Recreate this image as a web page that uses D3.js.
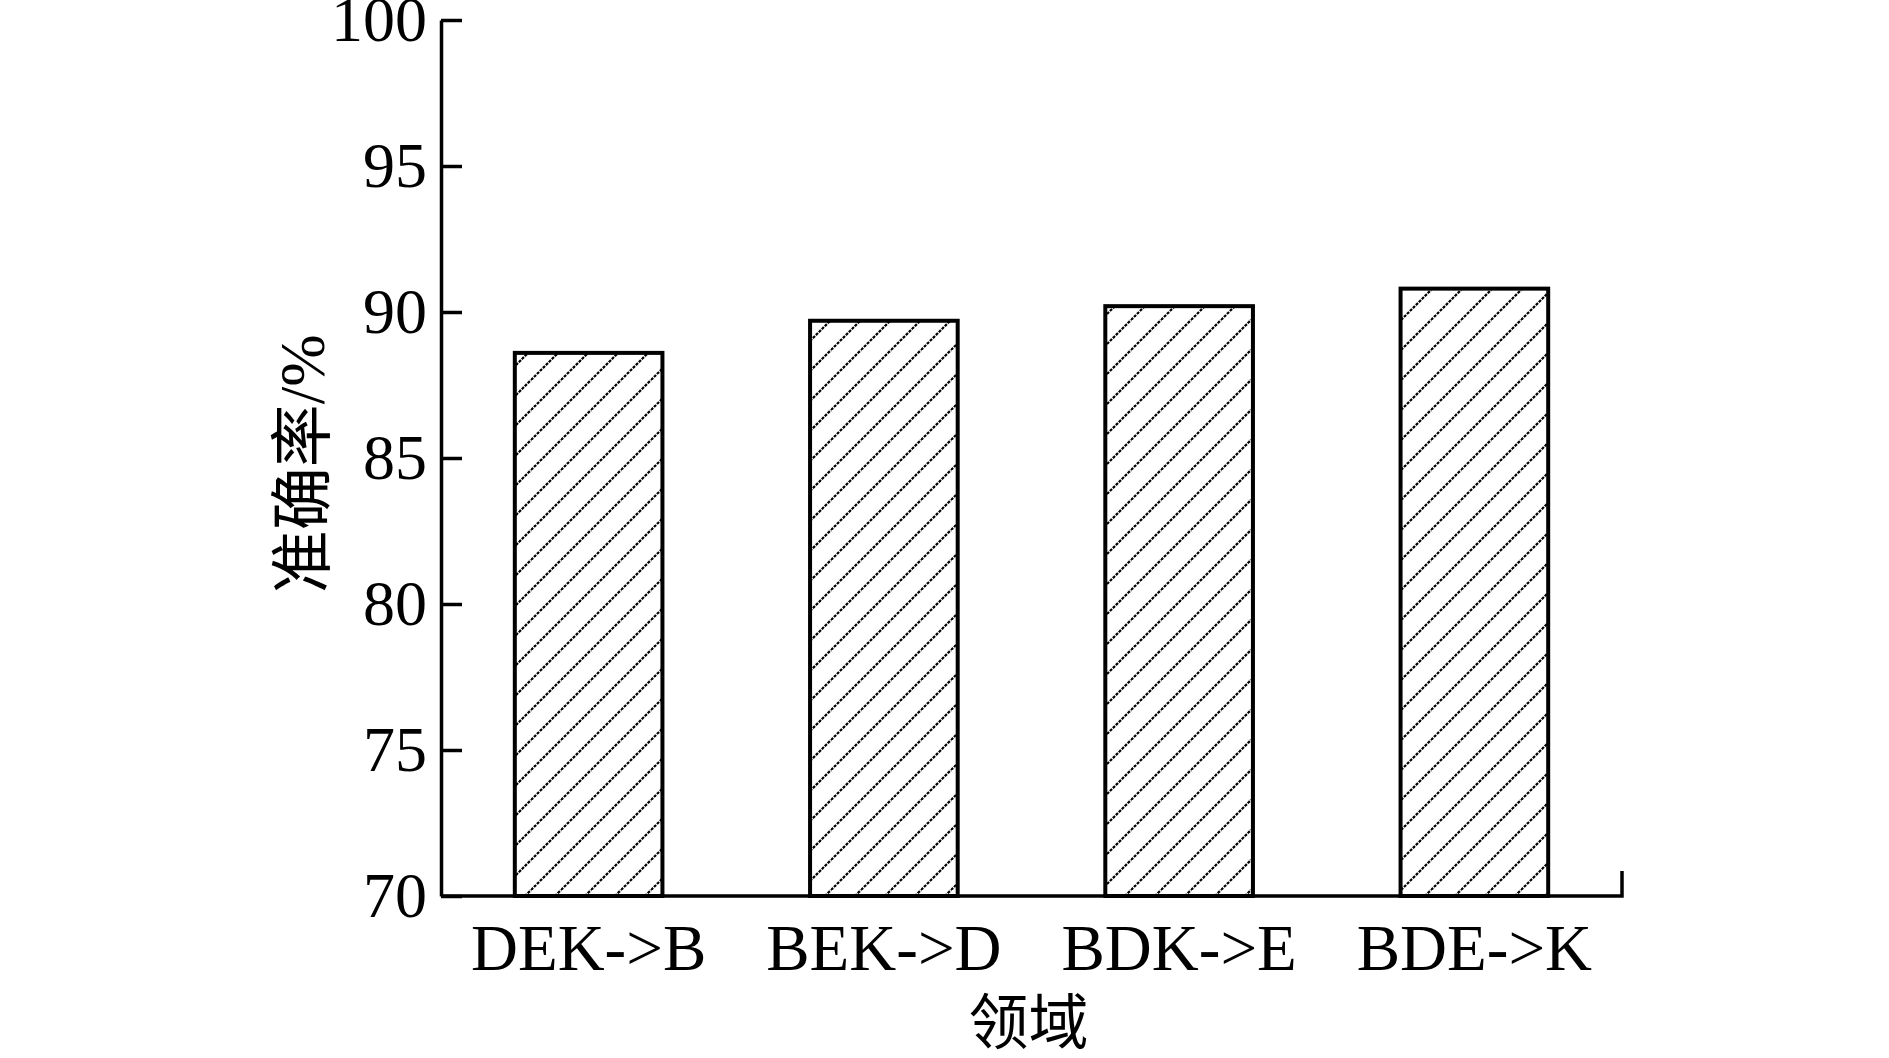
<!DOCTYPE html>
<html>
<head>
<meta charset="utf-8">
<script src="https://cdn.jsdelivr.net/npm/d3@7"></script>
<style>
  body { margin: 0; background: #fff; }
  svg { display: block; }
  .tick text { font-family: "Liberation Serif", "Times New Roman", serif; }
</style>
</head>
<body>
<svg id="chart" width="1889" height="1058"></svg>
<script>
// categories and values (accuracy %)
var domains = ["DEK->B", "BEK->D", "BDK->E", "BDE->K"];
var accuracy = [88.6, 89.7, 90.2, 90.8];
var yTicks = [70, 75, 80, 85, 90, 95, 100];

var svg = d3.select("#chart"),
    margin = {top: 20, right: 267, bottom: 162, left: 441},
    width = +svg.attr("width") - margin.left - margin.right,
    height = +svg.attr("height") - margin.top - margin.bottom,
    g = svg.append("g").attr("transform", "translate(" + margin.left + "," + margin.top + ")");

// hatch pattern
var defs = svg.append("defs");
var pat = defs.append("pattern")
    .attr("id", "hatch")
    .attr("patternUnits", "userSpaceOnUse")
    .attr("width", 30)
    .attr("height", 30);
pat.append("path")
    .attr("d", "M-8,8 L8,-8 M0,30 L30,0 M22,38 L38,22")
    .attr("stroke", "#000")
    .attr("stroke-width", 2.2)
    .attr("stroke-dasharray", "3,1.2");

var x = d3.scaleBand()
    .domain(domains)
    .range([0, width])
    .paddingInner(0.5)
    .paddingOuter(0.25);

var y = d3.scaleLinear()
    .domain([70, 100])
    .range([height, 0]);

// bars
g.selectAll(".bar")
    .data(accuracy)
    .enter().append("rect")
    .attr("class", "bar")
    .attr("x", function(d, i) { return x(domains[i]); })
    .attr("y", function(d) { return y(d); })
    .attr("width", x.bandwidth())
    .attr("height", function(d) { return height - y(d); })
    .attr("fill", "url(#hatch)")
    .attr("stroke", "#000")
    .attr("stroke-width", 4);

// y-axis, ticks pointing inward
var yAxis = g.append("g")
    .attr("class", "axisY")
    .call(d3.axisLeft(y)
        .tickValues(yTicks)
        .tickSizeInner(-21)
        .tickSizeOuter(0)
        .tickPadding(14)
        .tickFormat(d3.format("d")));
yAxis.select(".domain").attr("stroke-width", 3.5);
yAxis.selectAll(".tick line").attr("stroke-width", 3.5);
yAxis.selectAll(".tick text")
    .attr("font-size", 64)
    .attr("fill", "#000");

// x-axis
var xAxis = g.append("g")
    .attr("class", "axisX")
    .attr("transform", "translate(0," + height + ")")
    .call(d3.axisBottom(x).tickSize(0).tickPadding(28));
xAxis.select(".domain").remove();
xAxis.append("path")
    .attr("d", "M0,0H" + width + "V-25")
    .attr("fill", "none")
    .attr("stroke", "#000")
    .attr("stroke-width", 3.5);
xAxis.selectAll(".tick text")
    .attr("font-size", 65)
    .attr("fill", "#000");

// axis titles
g.append("text")
    .attr("x", width / 2 - 3)
    .attr("y", height + 148)
    .attr("text-anchor", "middle")
    .attr("font-family", "'Noto Sans CJK SC', sans-serif")
    .attr("font-size", 60)
    .text("领域");

g.append("text")
    .attr("transform", "translate(-139," + (y(84.8)) + ") rotate(-90)")
    .attr("text-anchor", "middle")
    .attr("dy", "0.35em")
    .attr("font-family", "'Liberation Serif', 'Noto Sans CJK SC', serif")
    .attr("font-size", 63)
    .text("准确率/%");
</script>
</body>
</html>
